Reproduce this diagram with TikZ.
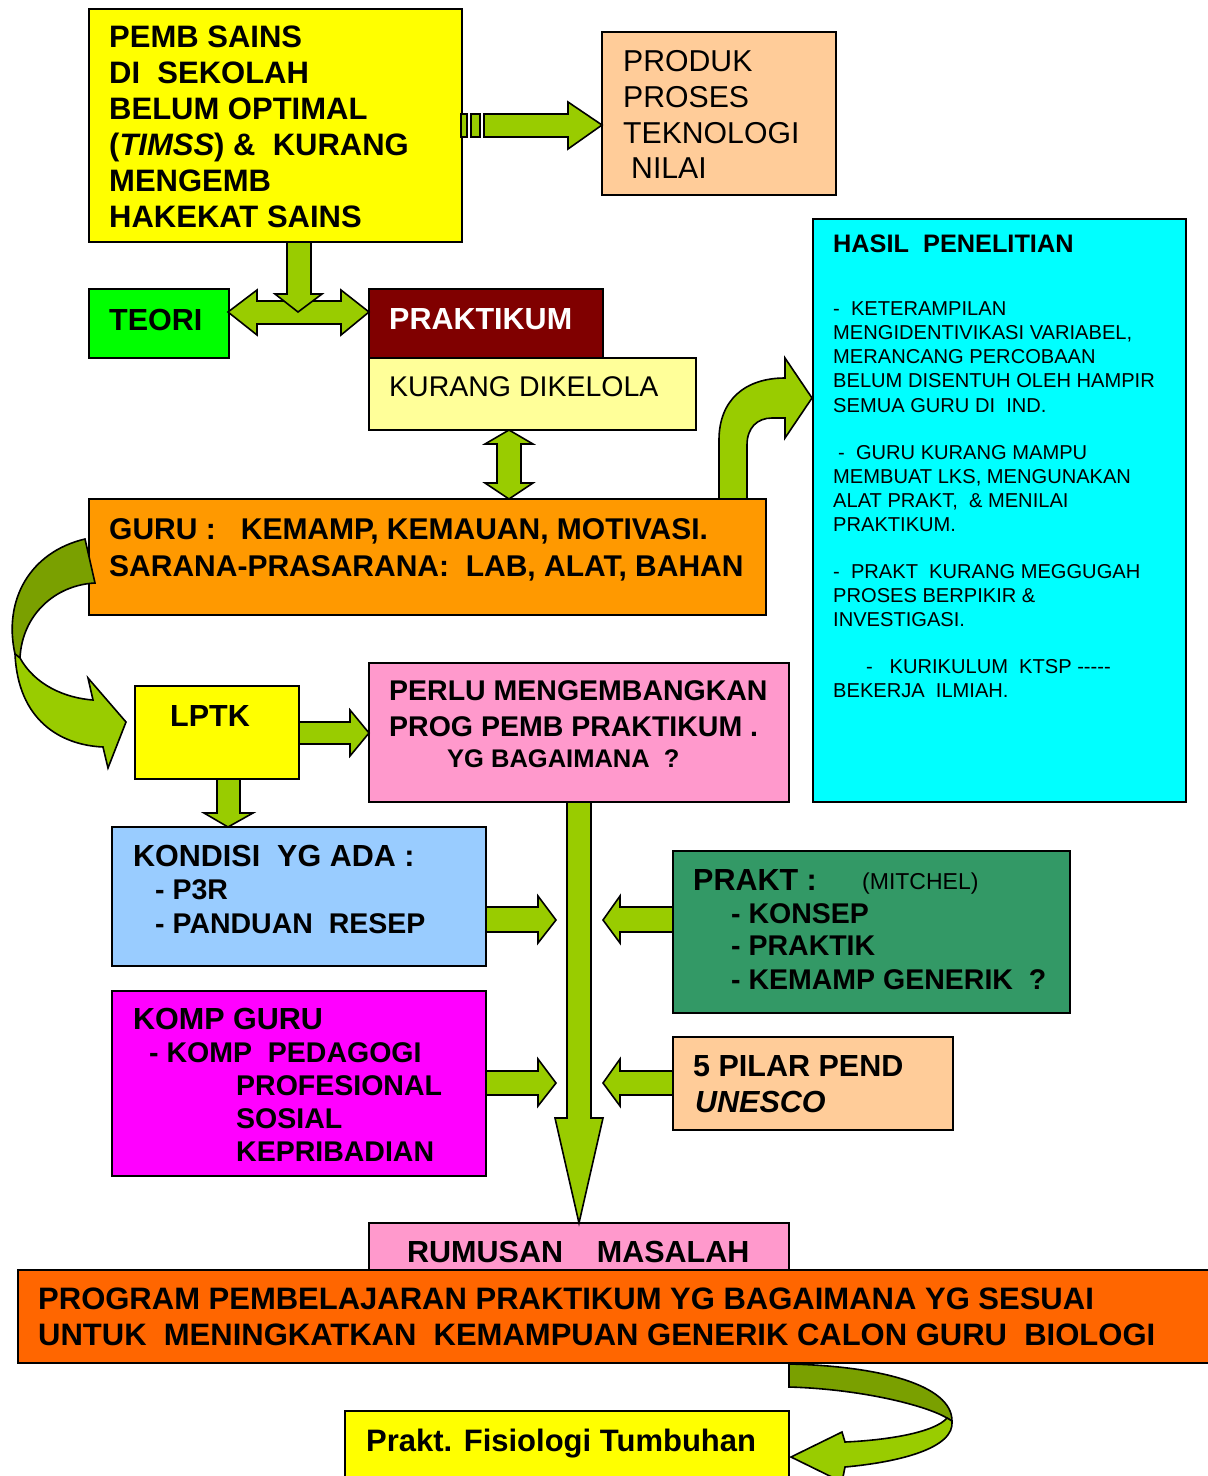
\documentclass[tikz,border=0pt]{standalone}
\usepackage{fontspec}
\setmainfont{Liberation Sans}
\definecolor{cYel}{HTML}{FFFF00}
\definecolor{cPeach}{HTML}{FFCC99}
\definecolor{cGreen}{HTML}{00FF00}
\definecolor{cDRed}{HTML}{800000}
\definecolor{cLYel}{HTML}{FFFF99}
\definecolor{cOrange}{HTML}{FF9900}
\definecolor{cCyan}{HTML}{00FFFF}
\definecolor{cPink}{HTML}{FF99CC}
\definecolor{cLBlue}{HTML}{99CCFF}
\definecolor{cDGreen}{HTML}{339966}
\definecolor{cMag}{HTML}{FF00FF}
\definecolor{cRedOr}{HTML}{FF6600}
\definecolor{cArr}{HTML}{99CC00}
\definecolor{cArrD}{HTML}{7AA000}
\tikzset{
  box/.style={draw=black, line width=1.6pt, anchor=north west, inner sep=0pt, outer sep=0pt},
  tb/.style={anchor=base west, inner sep=0pt, font=\fontsize{30.5}{36}\selectfont\bfseries},
  tbl/.style={anchor=base west, inner sep=0pt, font=\fontsize{31}{36}\selectfont\bfseries},
  tbm/.style={anchor=base west, inner sep=0pt, font=\fontsize{30}{36}\selectfont\bfseries},
  tbs/.style={anchor=base west, inner sep=0pt, font=\fontsize{28.5}{34}\selectfont\bfseries},
  tr/.style={anchor=base west, inner sep=0pt, font=\fontsize{30.2}{36}\selectfont},
  tsm/.style={anchor=base west, inner sep=0pt, font=\fontsize{20.1}{24}\selectfont},
  blockarr/.style={fill=cArr, draw=black, line width=1.6pt, line join=miter},
  blockarrd/.style={fill=cArrD, draw=black, line width=1.6pt, line join=miter}
}
\begin{document}
\begin{tikzpicture}[x=1pt,y=-1pt]
\path[use as bounding box] (0,0) rectangle (1208,1476);
\clip (0,0) rectangle (1208,1476);
\fill[white] (0,0) rectangle (1208,1476);

% ---------- boxes ----------
\node[box, fill=cYel, minimum width=373pt, minimum height=233pt] (pemb) at (89,9) {};
\node[box, fill=cPeach, minimum width=234pt, minimum height=163pt] (produk) at (602,32) {};
\node[box, fill=cGreen, minimum width=140pt, minimum height=69pt] (teori) at (89,289) {};
\node[box, fill=cDRed, minimum width=234pt, minimum height=69pt] (prak) at (369,289) {};
\node[box, fill=cLYel, minimum width=327pt, minimum height=72pt] (kurang) at (369,358) {};
\node[box, fill=cOrange, minimum width=677pt, minimum height=116pt] (guru) at (89,499) {};
\node[box, fill=cCyan, minimum width=373pt, minimum height=583pt] (hasil) at (813,219) {};
\node[box, fill=cYel, minimum width=164pt, minimum height=93pt] (lptk) at (135,686) {};
\node[box, fill=cPink, minimum width=420pt, minimum height=139pt] (perlu) at (369,663) {};
\node[box, fill=cLBlue, minimum width=374pt, minimum height=139pt] (kondisi) at (112,827) {};
\node[box, fill=cDGreen, minimum width=397pt, minimum height=162pt] (mitchel) at (673,851) {};
\node[box, fill=cMag, minimum width=374pt, minimum height=185pt] (komp) at (112,991) {};
\node[box, fill=cPeach, minimum width=280pt, minimum height=93pt] (pilar) at (673,1037) {};
\node[box, fill=cPink, minimum width=420pt, minimum height=60pt] (rumusan) at (369,1223) {};
\node[box, fill=cRedOr, minimum width=1200pt, minimum height=93pt] (program) at (18,1270) {};
\node[box, fill=cYel, minimum width=444pt, minimum height=80pt] (fisio) at (345,1411) {};

% ---------- texts ----------
\node[tbl] (p1) at (109,47) {PEMB SAINS};
\node[tbl] (p2) at (109,83) {DI\ \ SEKOLAH};
\node[tbl] (p3) at (109,119) {BELUM OPTIMAL};
\node[tbl] (p4) at (109,155) {(\textit{TIMSS}) \&\ \ KURANG};
\node[tbl] (p5) at (109,191) {MENGEMB};
\node[tbl] (p6) at (109,227) {HAKEKAT SAINS};

\node[tr] (q1) at (623,71) {PRODUK};
\node[tr] (q2) at (623,107) {PROSES};
\node[tr] (q3) at (623,143) {TEKNOLOGI};
\node[tr] (q4) at (631,178) {NILAI};

\node[tb] (teorit) at (109,330) {TEORI};
\node[tb, text=white] (prakt) at (389,329) {PRAKTIKUM};
\node[anchor=base west, inner sep=0pt, font=\fontsize{28.5}{34}\selectfont] (kurangt) at (389,396) {KURANG DIKELOLA};

\node[tbm] (g1) at (109,539) {GURU :\ \ \ KEMAMP, KEMAUAN, MOTIVASI.};
\node[tbm] (g2) at (109,576) {SARANA-PRASARANA:\ \ LAB, ALAT, BAHAN};

\node[anchor=base west, inner sep=0pt, font=\fontsize{25.3}{30}\selectfont\bfseries] (h0) at (833,252) {HASIL\ \ PENELITIAN};
\node[tsm] (h1) at (833,315) {-\ \ KETERAMPILAN};
\node[tsm] (h2) at (833,339) {MENGIDENTIVIKASI VARIABEL,};
\node[tsm] (h3) at (833,363) {MERANCANG PERCOBAAN};
\node[tsm] (h4) at (833,387) {BELUM DISENTUH OLEH HAMPIR};
\node[tsm] (h5) at (833,412) {SEMUA GURU DI\ \ IND.};
\node[tsm] (h6) at (838,459) {-\ \ GURU KURANG MAMPU};
\node[tsm] (h7) at (833,483) {MEMBUAT LKS, MENGUNAKAN};
\node[tsm] (h8) at (833,507) {ALAT PRAKT,\ \ \& MENILAI};
\node[tsm] (h9) at (833,531) {PRAKTIKUM.};
\node[tsm] (h10) at (833,578) {-\ \ PRAKT\ \ KURANG MEGGUGAH};
\node[tsm] (h11) at (833,602) {PROSES BERPIKIR \&};
\node[tsm] (h12) at (833,626) {INVESTIGASI.};
\node[tsm] (h13) at (866,673) {-\ \ \ KURIKULUM\ \ KTSP -{}-{}-{}-{}-};
\node[tsm] (h14) at (833,697) {BEKERJA\ \ ILMIAH.};

\node[tb] (lptkt) at (170,726) {LPTK};

\node[anchor=base west, inner sep=0pt, font=\fontsize{28.5}{34}\selectfont\bfseries] (r1) at (389,700) {PERLU MENGEMBANGKAN};
\node[anchor=base west, inner sep=0pt, font=\fontsize{28.5}{34}\selectfont\bfseries] (r2) at (389,736) {PROG PEMB PRAKTIKUM .};
\node[anchor=base west, inner sep=0pt, font=\fontsize{25.5}{30}\selectfont\bfseries] (r3) at (447,767) {YG BAGAIMANA\ \ ?};

\node[tb] (k1) at (133,866) {KONDISI\ \ YG ADA :};
\node[tbs] (k2) at (155,899) {- P3R};
\node[tbs] (k3) at (155,933) {- PANDUAN\ \ RESEP};

\node[tb] (m1) at (693,890) {PRAKT :};
\node[anchor=base west, inner sep=0pt, font=\fontsize{23}{28}\selectfont] (m0) at (862,889) {(MITCHEL)};
\node[tbs] (m2) at (731,923) {- KONSEP};
\node[tbs] (m3) at (731,955) {- PRAKTIK};
\node[tbs] (m4) at (731,989) {- KEMAMP GENERIK\ \ ?};

\node[tb] (c1) at (133,1029) {KOMP GURU};
\node[tbs] (c2) at (149,1062) {- KOMP\ \ PEDAGOGI};
\node[tbs] (c3) at (236,1095) {PROFESIONAL};
\node[tbs] (c4) at (236,1128) {SOSIAL};
\node[tbs] (c5) at (236,1161) {KEPRIBADIAN};

\node[tb] (u1) at (693,1076) {5 PILAR PEND};
\node[tb] (u2) at (695,1112) {\itshape UNESCO};

\node[tb] (rumt) at (407,1262) {RUMUSAN\ \ \ \ MASALAH};

\node[tbl] (pg1) at (38,1309) {PROGRAM PEMBELAJARAN PRAKTIKUM YG BAGAIMANA YG SESUAI};
\node[tbl] (pg2) at (38,1345) {UNTUK\ \ MENINGKATKAN\ \ KEMAMPUAN GENERIK CALON GURU\ \ BIOLOGI};

\node[tbl] (fisiot) at (366,1451) {Prakt. Fisiologi Tumbuhan};

% ---------- block arrows ----------
% pemb -> produk (striped)
\draw[blockarr] (461,114) rectangle (467,137);
\draw[blockarr] (471,114) rectangle (480,137);
\draw[blockarr] (484,114) -- (568,114) -- (568,102) -- (602,125) -- (568,149) -- (568,137) -- (484,137) -- cycle;

% teori <-> praktikum
\draw[blockarr] (228,312) -- (257,290) -- (257,301) -- (341,301) -- (341,290) -- (369,312) -- (341,335) -- (341,324) -- (257,324) -- (257,335) -- cycle;
% pemb down
\draw[blockarr] (287,242) -- (311,242) -- (311,294) -- (322,294) -- (298,312) -- (275,294) -- (287,294) -- cycle;

% kurang <-> guru
\draw[blockarr] (509,430) -- (533,444) -- (521,444) -- (521,483) -- (533,483) -- (509,499) -- (485,483) -- (497,483) -- (497,444) -- (485,444) -- cycle;

% guru -> hasil (curved up-right)
\draw[blockarr] (719,499) -- (719,440) .. controls (719,400) and (745,378) .. (785,378) -- (785,358) -- (812,398) -- (785,438) -- (785,418) -- (772,418) .. controls (757,418) and (747,428) .. (747,445) -- (747,499) -- cycle;

% guru -> lptk (twisted curve)
\draw[blockarrd] (85,539) .. controls (30,552) and (3,600) .. (15,654) -- (20,658) .. controls (22,615) and (55,585) .. (95,583) -- cycle;
\draw[blockarr] (20,658) .. controls (35,685) and (65,698) .. (93,700) -- (88,678) -- (126,722) -- (108,768) -- (103,747) .. controls (60,745) and (18,720) .. (15,654) -- cycle;

% lptk -> perlu
\draw[blockarr] (299,722) -- (350,722) -- (350,710) -- (369,733) -- (350,756) -- (350,744) -- (299,744) -- cycle;
% lptk -> kondisi
\draw[blockarr] (217,779) -- (240,779) -- (240,813) -- (253,813) -- (228,827) -- (204,813) -- (217,813) -- cycle;

% central down arrow
\draw[blockarr] (567,802) -- (591,802) -- (591,1118) -- (603,1118) -- (579,1223) -- (555,1118) -- (567,1118) -- cycle;

% side arrows
\draw[blockarr] (486,907) -- (538,907) -- (538,896) -- (556,920) -- (538,943) -- (538,932) -- (486,932) -- cycle;
\draw[blockarr] (673,907) -- (620,907) -- (620,896) -- (603,920) -- (620,943) -- (620,932) -- (673,932) -- cycle;
\draw[blockarr] (486,1071) -- (538,1071) -- (538,1059) -- (556,1083) -- (538,1106) -- (538,1095) -- (486,1095) -- cycle;
\draw[blockarr] (673,1071) -- (620,1071) -- (620,1059) -- (603,1083) -- (620,1106) -- (620,1095) -- (673,1095) -- cycle;

% program -> fisiologi (twisted curve)
\draw[blockarrd] (789,1364) .. controls (880,1366) and (952,1385) .. (952,1421) -- (947,1418) .. controls (925,1405) and (860,1389) .. (789,1387) -- cycle;
\draw[blockarr] (947,1418) .. controls (935,1432) and (890,1440) .. (845,1442) -- (842,1432) -- (791,1457) -- (842,1482) -- (845,1467) .. controls (900,1462) and (955,1448) .. (952,1421) -- cycle;
\end{tikzpicture}
\end{document}
